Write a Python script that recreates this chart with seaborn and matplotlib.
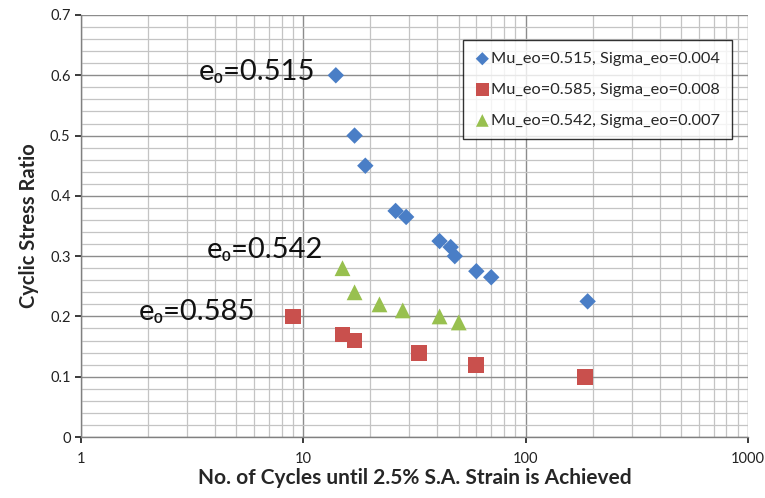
import numpy as np
import pandas as pd
import matplotlib
matplotlib.use("Agg")
import matplotlib.pyplot as plt
import seaborn as sns
from matplotlib.ticker import FixedLocator, MultipleLocator, NullFormatter

sns.set_theme(style="white")
plt.rcParams['font.family'] = ['Lato', 'DejaVu Sans']

series_names = ["Mu_eo=0.515, Sigma_eo=0.004",
                "Mu_eo=0.585, Sigma_eo=0.008",
                "Mu_eo=0.542, Sigma_eo=0.007"]

blue_cycles = [14, 17, 19, 26, 29, 41, 46, 48, 60, 70, 190]
blue_csr = [0.60, 0.50, 0.45, 0.375, 0.365, 0.325, 0.315, 0.30, 0.275, 0.265, 0.225]

red_cycles = [9, 15, 17, 33, 60, 185]
red_csr = [0.20, 0.17, 0.16, 0.14, 0.12, 0.10]

green_cycles = [15, 17, 22, 28, 41, 50]
green_csr = [0.28, 0.24, 0.22, 0.21, 0.20, 0.19]

x_ticks = [1, 10, 100, 1000]
x_ticklabels = ["1", "10", "100", "1000"]
y_ticks = [0, 0.1, 0.2, 0.3, 0.4, 0.5, 0.6, 0.7]
y_ticklabels = ["0", "0.1", "0.2", "0.3", "0.4", "0.5", "0.6", "0.7"]

annotations = ["e\u2080=0.515", "e\u2080=0.542", "e\u2080=0.585"]

df = pd.DataFrame({
    "cycles": blue_cycles + red_cycles + green_cycles,
    "csr": blue_csr + red_csr + green_csr,
    "series": [series_names[0]] * len(blue_cycles)
              + [series_names[1]] * len(red_cycles)
              + [series_names[2]] * len(green_cycles),
})

colors = {series_names[0]: "#4A7EC6", series_names[1]: "#C9504D", series_names[2]: "#98C04F"}
markers = {series_names[0]: "D", series_names[1]: "s", series_names[2]: "^"}
sizes = {series_names[0]: 70, series_names[1]: 130, series_names[2]: 130}

fig = plt.figure(figsize=(7.65, 4.98), dpi=100)
ax = fig.add_axes([81 / 765, 1 - 437 / 498, (748 - 81) / 765, (437 - 15) / 498])

for name in series_names:
    sub = df[df["series"] == name]
    sns.scatterplot(data=sub, x="cycles", y="csr", ax=ax, color=colors[name],
                    marker=markers[name], s=sizes[name], edgecolor="none",
                    label=name, zorder=3)

ax.set_xscale("log")
ax.set_xlim(1, 1000)
ax.set_ylim(0, 0.7)

ax.xaxis.set_major_locator(FixedLocator(x_ticks))
ax.set_xticklabels(x_ticklabels)
minor_x = [m * 10 ** d for d in range(0, 3) for m in range(2, 10)]
ax.xaxis.set_minor_locator(FixedLocator(minor_x))
ax.xaxis.set_minor_formatter(NullFormatter())
ax.yaxis.set_major_locator(FixedLocator(y_ticks))
ax.set_yticklabels(y_ticklabels)
ax.yaxis.set_minor_locator(MultipleLocator(0.02))

ax.grid(True, which="major", color="#8c8c8c", linewidth=1.0, zorder=0)
ax.grid(True, which="minor", color="#c4c4c4", linewidth=0.9, zorder=0)
ax.set_axisbelow(True)

for side in ["top", "right"]:
    ax.spines[side].set_visible(False)
for side in ["left", "bottom"]:
    ax.spines[side].set_color("#808080")
    ax.spines[side].set_linewidth(1.0)

ax.tick_params(axis="both", which="major", labelsize=10.5, colors="#222222",
               length=4, direction="out", left=True, bottom=True)
ax.tick_params(axis="both", which="minor", length=0)
for lab in ax.get_xticklabels() + ax.get_yticklabels():
    lab.set_color("#222222")
ax.tick_params(axis="x", pad=7)

ax.set_xlabel("No. of Cycles until 2.5% S.A. Strain is Achieved",
              fontsize=15, fontweight="bold", labelpad=1)
ax.set_ylabel("Cyclic Stress Ratio", fontsize=14.5, fontweight="bold", labelpad=8)

ax.text(11.3, 0.605, annotations[0], fontsize=21, ha="right", va="center", color="#111111")
ax.text(12.3, 0.31, annotations[1], fontsize=21, ha="right", va="center", color="#111111")
ax.text(6.1, 0.208, annotations[2], fontsize=21, ha="right", va="center", color="#111111")

leg = ax.legend(loc="upper right", bbox_to_anchor=(0.988, 0.96), frameon=True,
                fontsize=11.8, handletextpad=0.1, handlelength=0.9,
                labelspacing=1.0, borderpad=0.7, fancybox=False, markerscale=0.8)
leg.get_frame().set_edgecolor("black")
leg.get_frame().set_linewidth(1.0)

fig.savefig("out.png", dpi=100)
